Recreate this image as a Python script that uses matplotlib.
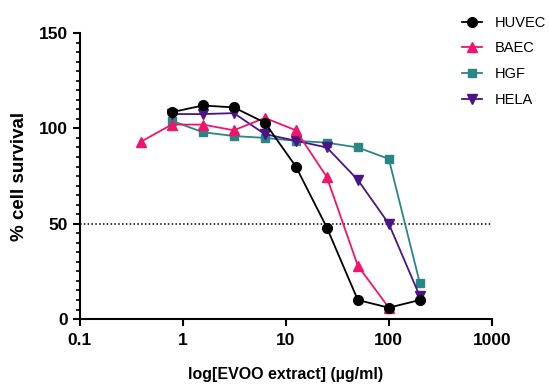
import numpy as np
import matplotlib.pyplot as plt
from matplotlib.ticker import MultipleLocator, FixedLocator, NullLocator

plt.rcParams['font.family'] = ['Liberation Sans', 'DejaVu Sans']

conc = [0.39, 0.78, 1.56, 3.125, 6.25, 12.5, 25, 50, 100, 200]

huvec_x = conc[1:]
huvec = [108.5, 112, 111, 103, 80, 48, 10, 6, 10]

baec_x = conc[:9]
baec = [93, 102, 102, 99, 105.5, 99, 74.5, 28, 6]

hgf_x = conc[1:]
hgf = [104, 98, 96, 95, 93.5, 92.5, 90, 84, 19]

hela_x = conc[1:]
hela = [107.5, 107.5, 108, 97, 93.5, 90, 73, 50, 12]

fig = plt.figure(figsize=(5.49, 3.84), dpi=100)
ax = fig.add_axes([0.1457, 0.169, 0.75, 0.745])

ax.axhline(50, color='black', linestyle=(0, (1, 1.5)), linewidth=1.1, zorder=1)

ax.plot(huvec_x, huvec, color='black', marker='o', markersize=7, lw=1.3, label='HUVEC', zorder=5)
ax.plot(baec_x, baec, color='#F2146C', marker='^', markersize=7, lw=1.3, label='BAEC', zorder=4)
ax.plot(hgf_x, hgf, color='#2A8585', marker='s', markersize=6, lw=1.3, label='HGF', zorder=3)
ax.plot(hela_x, hela, color='#4A1486', marker='v', markersize=7, lw=1.3, label='HELA', zorder=3)

ax.set_xscale('log')
ax.set_xlim(0.1, 1000)
ax.set_ylim(0, 150)
ax.xaxis.set_major_locator(FixedLocator([0.1, 1, 10, 100, 1000]))
ax.xaxis.set_minor_locator(NullLocator())
ax.set_xticklabels(['0.1', '1', '10', '100', '1000'])
ax.yaxis.set_major_locator(MultipleLocator(50))
ax.yaxis.set_minor_locator(MultipleLocator(5))

for s in ['top', 'right']:
    ax.spines[s].set_visible(False)
for s in ['left', 'bottom']:
    ax.spines[s].set_linewidth(1.5)
ax.tick_params(which='major', length=5, width=1.5, labelsize=12.5)
ax.tick_params(axis='x', pad=5)
ax.tick_params(which='minor', length=3, width=1.2)
for lab in ax.get_xticklabels() + ax.get_yticklabels():
    lab.set_fontweight('bold')

ax.set_ylabel('% cell survival', fontsize=13.5, fontweight='bold', labelpad=8)
ax.set_xlabel('log[EVOO extract] (µg/ml)', fontsize=11.5, fontweight='bold', labelpad=14)

ax.legend(loc='upper left', bbox_to_anchor=(450 / 549, 1 - 4 / 384), bbox_transform=fig.transFigure,
          frameon=False, fontsize=10.5, handlelength=1.4, labelspacing=0.8, handletextpad=0.9,
          borderpad=0.3)

fig.savefig('out.png', dpi=100)
